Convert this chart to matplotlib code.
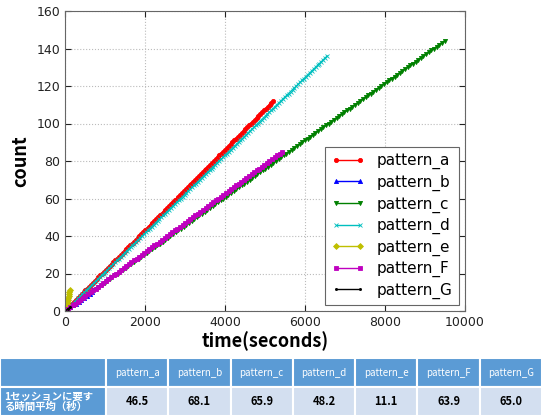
import matplotlib
matplotlib.use('Agg')
import matplotlib.pyplot as plt
import numpy as np

# series: name, mean seconds per session (from table), number of sessions
names = ['pattern_a', 'pattern_b', 'pattern_c', 'pattern_d',
         'pattern_e', 'pattern_F', 'pattern_G']
mean_sec = [46.5, 68.1, 65.9, 48.2, 11.1, 63.9, 65.0]
n_sessions = [112, 10, 144, 136, 11, 85, 2]
colors = ['r', 'b', 'g', 'c', 'y', 'm', 'k']
markers = ['o', '^', 'v', 'x', 'D', 's', '.']

row_label = '1セッションに要す\nる時間平均（秒）'

jp = ['Noto Sans CJK JP', 'DejaVu Sans']

fig = plt.figure(figsize=(5.51, 4.16), dpi=100)
ax = fig.add_axes([65 / 551, 105 / 416, 400 / 551, 300 / 416])

for name, m, n, c, mk in zip(names, mean_sec, n_sessions, colors, markers):
    counts = np.arange(0, n + 1)
    times = counts * m
    ax.plot(times, counts, color=c, marker=mk, markersize=3, lw=1,
            markeredgecolor=c, markeredgewidth=0.6, label=name)

ax.set_xlim(0, 10000)
ax.set_ylim(0, 160)
ax.set_xticks(range(0, 10001, 2000))
ax.set_yticks(range(0, 161, 20))
ax.grid(True, linestyle=':', color='#bbbbbb', lw=0.8)
ax.tick_params(direction='in', top=True, right=True, labelsize=9,
               colors='#222222', length=4)
for sp in ax.spines.values():
    sp.set_color('#666666')
ax.set_xlabel('time(seconds)', family=jp, fontweight='bold', fontsize=13,
              labelpad=2)
ax.set_ylabel('count', family=jp, fontweight='bold', fontsize=13)

leg = ax.legend(loc='lower right', fontsize=11, numpoints=2, fancybox=False,
                framealpha=1, edgecolor='#666666', handlelength=2.2,
                labelspacing=0.35, borderaxespad=0.4)
leg.get_frame().set_linewidth(0.8)

# table below the chart
tax = fig.add_axes([0, 0, 542 / 551, 58 / 416])
tax.axis('off')
cell_text = [[''] + names,
             [row_label] + ['%.1f' % v for v in mean_sec]]
first_w = 106 / 542
col_w = [first_w] + [(1 - first_w) / 7] * 7
tbl = tax.table(cellText=cell_text, colWidths=col_w, bbox=[0, 0, 1, 1],
                cellLoc='center')
tbl.auto_set_font_size(False)
head_blue = '#5b9bd5'
body_blue = '#d3dff0'
for (r, c), cell in tbl.get_celld().items():
    cell.set_edgecolor('white')
    cell.set_linewidth(1.5)
    txt = cell.get_text()
    txt.set_fontfamily(jp)
    if r == 0 or c == 0:
        cell.set_facecolor(head_blue)
        txt.set_color('white')
    else:
        cell.set_facecolor(body_blue)
        txt.set_color('black')
        txt.set_fontweight('bold')
        txt.set_fontsize(8)
    if r == 0:
        txt.set_fontsize(7)
    if r == 1 and c == 0:
        txt.set_fontsize(7.5)
        txt.set_fontweight('bold')
        txt.set_ha('left')
        txt.set_linespacing(1.0)
        cell.PAD = 0.04
        cell._loc = 'left'

fig.savefig('out.png', dpi=100, facecolor='white')
